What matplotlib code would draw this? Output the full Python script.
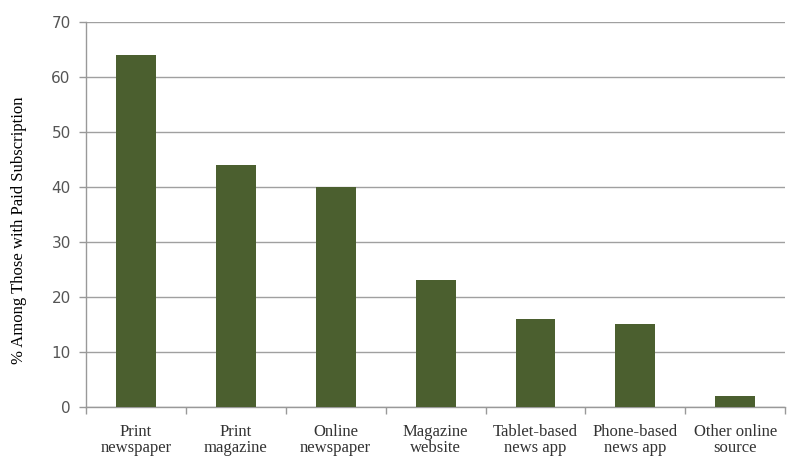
import numpy as np
import matplotlib.pyplot as plt
from matplotlib.ticker import FixedLocator

# source types and share (%) among those with a paid subscription
sources = ['Print\nnewspaper', 'Print\nmagazine', 'Online\nnewspaper',
           'Magazine\nwebsite', 'Tablet-based\nnews app', 'Phone-based\nnews app',
           'Other online\nsource']
shares = [64, 44, 40, 23, 16, 15, 2]

fig = plt.figure(figsize=(8, 4.65), dpi=100)
ax = fig.add_axes([0.1075, 0.125, 0.874, 0.828])

x = np.arange(len(sources))
ax.bar(x, shares, width=0.4, color='#4b5f2f', zorder=3)

ax.set_xlim(-0.5, len(sources) - 0.5)
ax.set_ylim(0, 70)
ax.set_yticks(np.arange(0, 71, 10))
ax.grid(axis='y', color='#a0a0a0', linewidth=1, zorder=0)

# category labels centred, tick marks on the boundaries
ax.set_xticks(x)
ax.set_xticklabels(sources, family='Liberation Serif', fontsize=12, color='#333333',
                   linespacing=1.05)
ax.tick_params(axis='x', which='major', length=0, pad=12)
ax.xaxis.set_minor_locator(FixedLocator(np.arange(-0.5, len(sources), 1)))
ax.tick_params(axis='x', which='minor', length=5, color='#999999', width=1)

ax.tick_params(axis='y', length=5, color='#999999', width=1,
               labelsize=11, labelcolor='#555555', pad=6)
for lab in ax.get_yticklabels():
    lab.set_family('DejaVu Sans')

for side in ['top', 'right']:
    ax.spines[side].set_visible(False)
for side in ['left', 'bottom']:
    ax.spines[side].set_color('#999999')
    ax.spines[side].set_linewidth(1)

ax.set_ylabel('% Among Those with Paid Subscription', family='Liberation Serif',
              fontsize=12, color='#000000', labelpad=17)
ax.yaxis.set_label_coords(-0.085, 0.46)

fig.savefig('out.png', dpi=100)
